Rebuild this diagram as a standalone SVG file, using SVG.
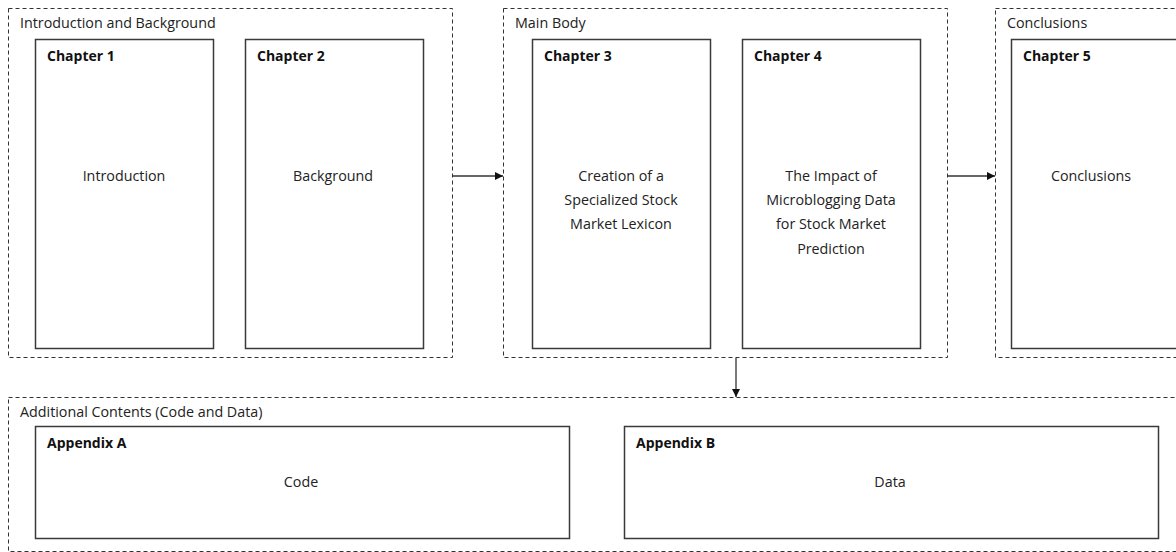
<svg xmlns="http://www.w3.org/2000/svg" width="1176" height="552" viewBox="0 0 1176 552">
  <style>
    .group { fill: none; stroke: #333; stroke-width: 1; stroke-dasharray: 4 3; }
    .box { fill: #fff; stroke: #3a3a3a; stroke-width: 1.5; }
    .glabel { font-family: "Open Sans", "Liberation Sans", sans-serif; font-size: 14.3px; fill: #222; }
    .title { font-family: "Open Sans", "Liberation Sans", sans-serif; font-size: 14px; font-weight: bold; fill: #111; }
    .body { font-family: "Open Sans", "Liberation Sans", sans-serif; font-size: 14.3px; fill: #222; text-anchor: middle; }
    .conn { stroke: #333; stroke-width: 1.3; fill: none; }
  </style>
  <defs>
    <marker id="arrow" viewBox="0 0 10 10" refX="10" refY="5" markerWidth="8" markerHeight="8" orient="auto" markerUnits="userSpaceOnUse">
      <path d="M0,0 L10,5 L0,10 z" fill="#111"/>
    </marker>
  </defs>

  <rect width="1176" height="552" fill="#fff"/>

  <!-- Introduction and Background -->
  <g id="group-intro">
    <rect class="group" x="8.5" y="8.5" width="444" height="349"/>
    <text class="glabel" x="20" y="28">Introduction and Background</text>
  </g>
  <g id="chapter1">
    <rect class="box" x="35.5" y="39.5" width="178" height="309"/>
    <text class="title" x="47" y="61">Chapter 1</text>
    <text class="body" x="124" y="181">Introduction</text>
  </g>
  <g id="chapter2">
    <rect class="box" x="245.5" y="39.5" width="178" height="309"/>
    <text class="title" x="257" y="61">Chapter 2</text>
    <text class="body" x="333" y="181">Background</text>
  </g>

  <!-- Main Body -->
  <g id="group-main">
    <rect class="group" x="503.5" y="8.5" width="444" height="349"/>
    <text class="glabel" x="515" y="28">Main Body</text>
  </g>
  <g id="chapter3">
    <rect class="box" x="532.5" y="39.5" width="178" height="309"/>
    <text class="title" x="544" y="61">Chapter 3</text>
    <text class="body" x="621" y="181">Creation of a</text>
    <text class="body" x="621" y="205">Specialized Stock</text>
    <text class="body" x="621" y="229">Market Lexicon</text>
  </g>
  <g id="chapter4">
    <rect class="box" x="742.5" y="39.5" width="178" height="309"/>
    <text class="title" x="754" y="61">Chapter 4</text>
    <text class="body" x="831" y="181">The Impact of</text>
    <text class="body" x="831" y="205">Microblogging Data</text>
    <text class="body" x="831" y="229">for Stock Market</text>
    <text class="body" x="831" y="254">Prediction</text>
  </g>

  <!-- Conclusions -->
  <g id="group-conclusions">
    <rect class="group" x="995.5" y="8.5" width="200" height="349"/>
    <text class="glabel" x="1007" y="28">Conclusions</text>
  </g>
  <g id="chapter5">
    <rect class="box" x="1011.5" y="39.5" width="178" height="309"/>
    <text class="title" x="1023" y="61">Chapter 5</text>
    <text class="body" x="1091" y="181">Conclusions</text>
  </g>

  <!-- Additional Contents -->
  <g id="group-additional">
    <rect class="group" x="8.5" y="397.5" width="1200" height="154"/>
    <text class="glabel" x="20" y="417">Additional Contents (Code and Data)</text>
  </g>
  <g id="appendixA">
    <rect class="box" x="35.5" y="426.5" width="534" height="112"/>
    <text class="title" x="47" y="448">Appendix A</text>
    <text class="body" x="301" y="487">Code</text>
  </g>
  <g id="appendixB">
    <rect class="box" x="624.5" y="426.5" width="534" height="112"/>
    <text class="title" x="636" y="448">Appendix B</text>
    <text class="body" x="890" y="487">Data</text>
  </g>

  <!-- Connectors -->
  <g id="connectors">
    <line class="conn" x1="453" y1="176" x2="503" y2="176" marker-end="url(#arrow)"/>
    <line class="conn" x1="948" y1="176" x2="995" y2="176" marker-end="url(#arrow)"/>
    <line class="conn" x1="736" y1="358" x2="736" y2="397" marker-end="url(#arrow)"/>
  </g>
</svg>
